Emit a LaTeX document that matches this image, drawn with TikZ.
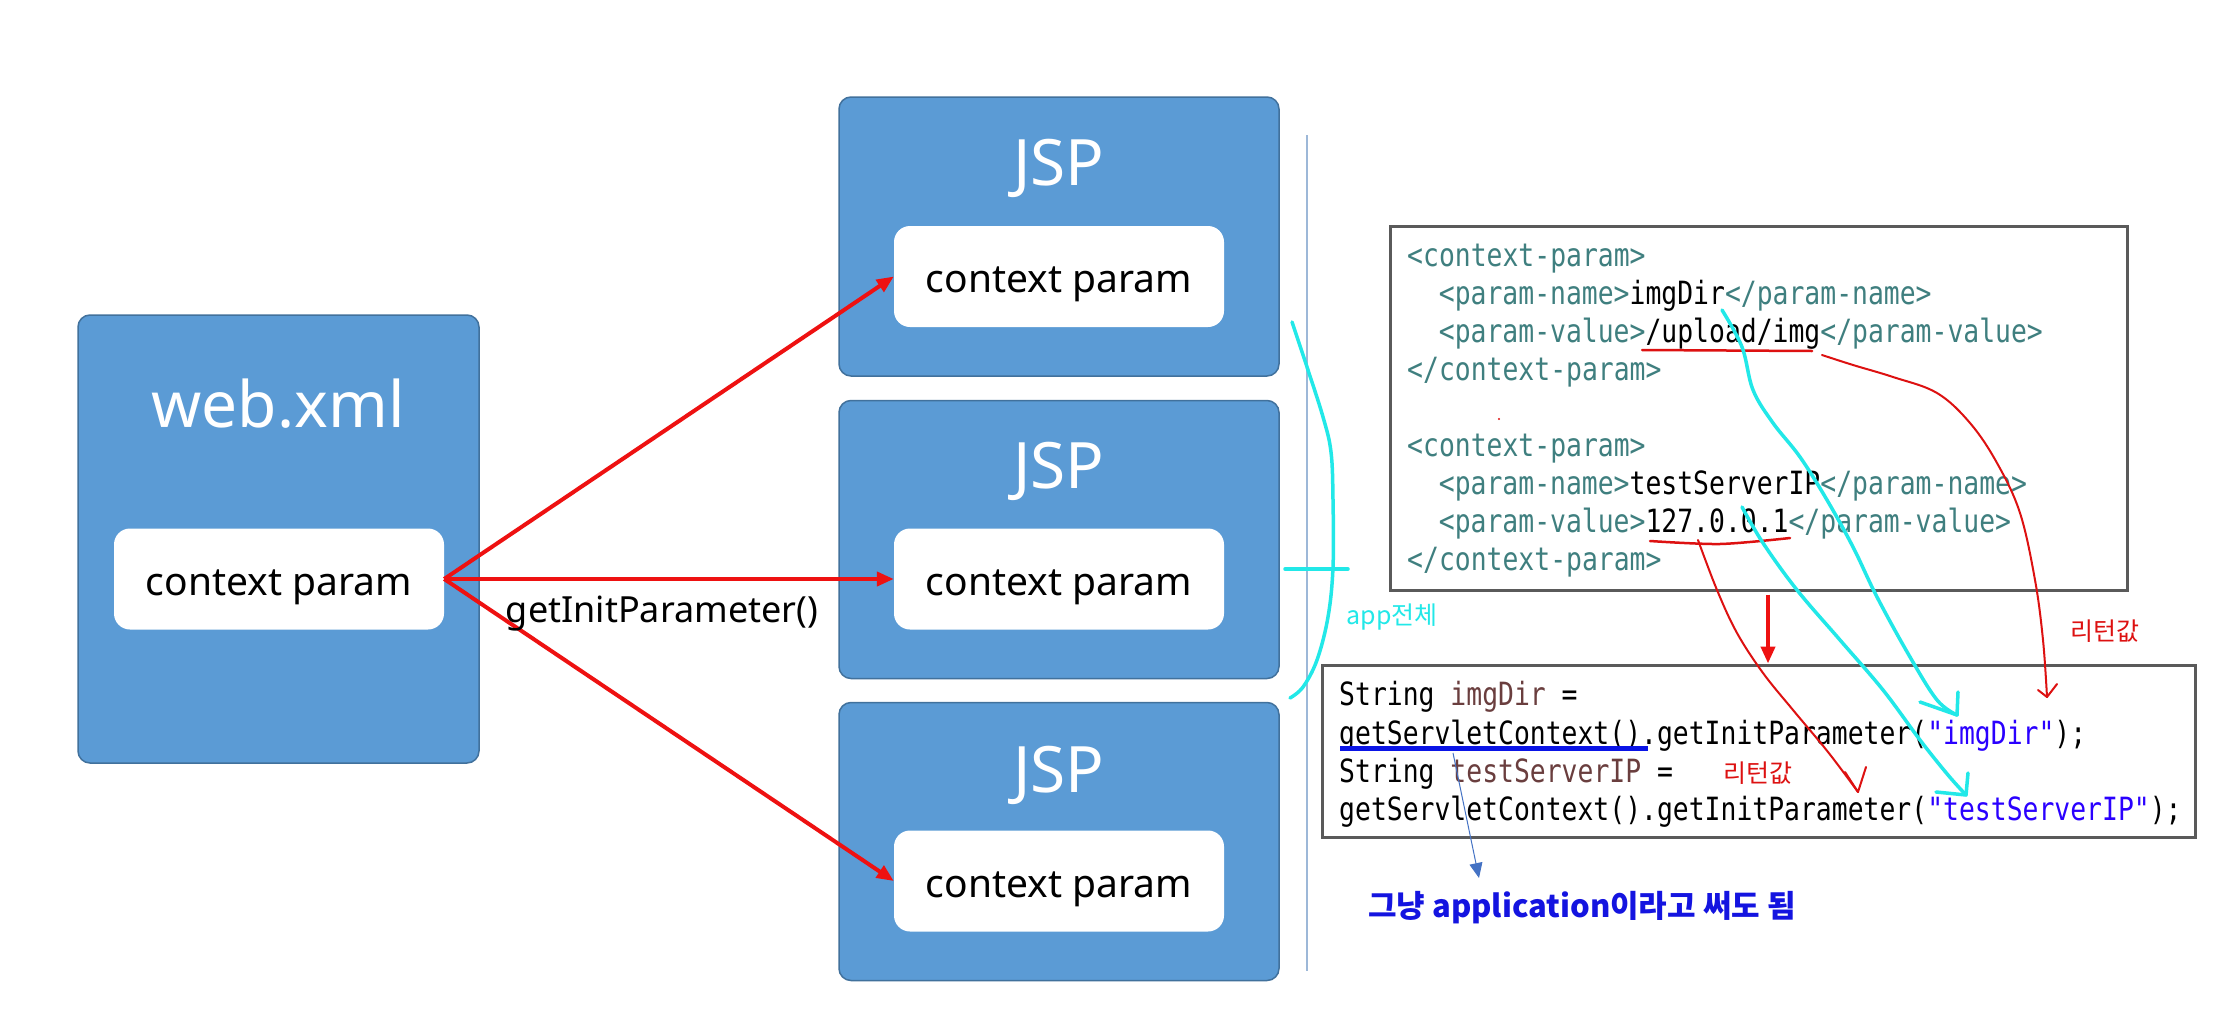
\documentclass[tikz,border=0pt]{standalone}
\usepackage{fontspec}
\setmainfont{Noto Sans}
\newfontfamily\codefont[FakeStretch=0.825]{DejaVu Sans Mono}
\newfontfamily\krfont{Noto Sans CJK KR}
\usetikzlibrary{arrows.meta}
\definecolor{boxblue}{HTML}{5B9BD5}
\definecolor{boxedge}{HTML}{41719C}
\definecolor{arrred}{HTML}{EE1111}
\definecolor{tagteal}{HTML}{3F7F7F}
\definecolor{varbrown}{HTML}{6A3E3E}
\definecolor{strblue}{HTML}{2A00FF}
\definecolor{hcyan}{HTML}{22E8E8}
\definecolor{hred}{HTML}{DD1111}
\definecolor{ulblue}{HTML}{0A14E6}
\definecolor{thinblue}{HTML}{4472C4}
\definecolor{noteblue}{HTML}{1414E0}
\definecolor{vlinecol}{HTML}{9DB8D8}
\definecolor{codeedge}{HTML}{5A5A5A}
\tikzset{
  bluebox/.style={draw=boxedge, line width=1.5pt, fill=boxblue, rounded corners=12pt, inner sep=0pt},
  innerbox/.style={fill=white, rounded corners=16pt, inner sep=0pt, minimum width=330pt, minimum height=101pt, text=black, text height=32pt, text depth=0pt, font=\fontsize{39}{44}\selectfont},
  titletext/.style={text=white, inner sep=0pt, anchor=base, font=\fontsize{64}{70}\selectfont},
  redarrow/.style={draw=arrred, line width=4pt, -{Triangle[length=17pt,width=14pt]}},
  codebox/.style={draw=codeedge, line width=3pt, fill=none, inner sep=0pt},
  codeline/.style={anchor=base west, inner sep=0pt, font=\codefont\fontsize{32}{38}\selectfont},
  cyanpen/.style={draw=hcyan, line width=3.5pt, line cap=round, line join=round},
  redpen/.style={draw=hred, line width=2pt, line cap=round, line join=round},
  handtext/.style={inner sep=0pt, font=\krfont\fontsize{25}{28}\selectfont},
}
\begin{document}
\begin{tikzpicture}[x=1pt,y=-1pt]
\useasboundingbox (0,0) rectangle (2228,1009);
\fill[white] (0,0) rectangle (2228,1009);

% web.xml box
\node[bluebox, minimum width=401pt, minimum height=448pt] (web) at (278.5,539) {};
\node[titletext] (webtitle) at (278,427) {web.xml};
\node[innerbox] (webin) at (279,579) {context param};

% JSP boxes
\node[bluebox, minimum width=440pt, minimum height=279pt] (j1) at (1059,236.5) {};
\node[titletext] (j1t) at (1059,185) {JSP};
\node[innerbox] (j1in) at (1059,276.5) {context param};

\node[bluebox, minimum width=440pt, minimum height=278pt] (j2) at (1059,539.5) {};
\node[titletext] (j2t) at (1059,488) {JSP};
\node[innerbox] (j2in) at (1059,579) {context param};

\node[bluebox, minimum width=440pt, minimum height=278pt] (j3) at (1059,841.5) {};
\node[titletext] (j3t) at (1059,792) {JSP};
\node[innerbox] (j3in) at (1059,881) {context param};

% red arrows
\draw[redarrow] (webin.east) -- (j1in.west);
\draw[redarrow] (webin.east) -- (j2in.west);
\draw[redarrow] (webin.east) -- (j3in.west);
\node[inner sep=0pt, anchor=base, font=\fontsize{36}{40}\selectfont] (getlbl) at (662,622) {getInitParameter()};

% thin vertical line
\coordinate (vtop) at (1307,135);
\coordinate (vbot) at (1307,971);
\draw[vlinecol, line width=1.5pt] (vtop) -- (vbot);

% cyan bracket
\coordinate (bs) at (1292,322);
\coordinate (be) at (1290,698);
\draw[cyanpen] plot[smooth, tension=0.6] coordinates {(bs) (1307,367) (1323,417) (1331,452) (1333,500) (1333,567) (1328,617) (1317,660) (1303,687) (be)};
\coordinate (tk1) at (1285,569);
\coordinate (tk2) at (1348,569);
\draw[cyanpen] (tk1) -- (tk2);
\node[handtext, text=hcyan] (app) at (1392,617) {app전체};

% XML box
\node[codebox, minimum width=737pt, minimum height=364pt] (xml) at (1758.5,408) {};
\node[codeline] (x1) at (1407,266) {\color{tagteal}<context-param>};
\node[codeline] (x2) at (1438.7,304) {{\color{tagteal}<param-name>}imgDir{\color{tagteal}</param-name>}};
\node[codeline] (x3) at (1438.7,342) {{\color{tagteal}<param-value>}/upload/img{\color{tagteal}</param-value>}};
\node[codeline] (x4) at (1407,380) {\color{tagteal}</context-param>};
\node[codeline] (x5) at (1407,456) {\color{tagteal}<context-param>};
\node[codeline] (x6) at (1438.7,494) {{\color{tagteal}<param-name>}testServerIP{\color{tagteal}</param-name>}};
\node[codeline] (x7) at (1438.7,532) {{\color{tagteal}<param-value>}127.0.0.1{\color{tagteal}</param-value>}};
\node[codeline] (x8) at (1407,570) {\color{tagteal}</context-param>};
\coordinate (dot) at (1499,419);
\fill[hred] (dot) circle (1.2pt);

% code box
\node[codebox, minimum width=873pt, minimum height=172pt] (code) at (1758.5,751) {};
\node[codeline] (c1) at (1339,705) {String {\color{varbrown}imgDir}\ =};
\node[codeline] (c2) at (1339,744) {getServletContext().getInitParameter({\color{strblue}"imgDir"});};
\node[codeline] (c3) at (1339,782) {String {\color{varbrown}testServerIP}\ =};
\node[codeline] (c4) at (1339,820) {getServletContext().getInitParameter({\color{strblue}"testServerIP"});};

% red arrow xml -> code
\coordinate (ax) at (1768,0);
\draw[redarrow] ([yshift=-3pt]ax |- xml.south) -- (ax |- code.north);

% blue underline and thin arrow
\coordinate (ul1) at (1340,748);
\coordinate (ul2) at (1648,748);
\draw[ulblue, line width=5pt] (ul1) -- (ul2);
\coordinate (ba) at (1453,753);
\node[anchor=base west, inner sep=0pt, text=noteblue, font=\krfont\bfseries\fontsize{31}{36}\selectfont] (note) at (1368,917) {그냥 application이라고 써도 됨};
\coordinate (bb) at (1479,878);
\draw[thinblue, line width=1pt, -{Triangle[length=15pt,width=13pt]}] (ba) -- (bb);

% red underlines and curves
\coordinate (u1a) at (1642,350);
\coordinate (u1b) at (1812,351);
\draw[redpen, line width=2.5pt] (u1a) -- (u1b);
\coordinate (r1s) at (1822,355);
\coordinate (r1e) at (2047,697);
\draw[redpen] plot[smooth, tension=0.6] coordinates {(r1s) (1853,365) (1893,377) (1937,393) (1970,423) (1997,463) (2020,513) (2035,580) (2043,640) (r1e)};
\draw[redpen] (2038,690) -- (r1e) -- (2057,684);
\node[handtext, text=hred] (ret1) at (2105,631) {리턴값};

\coordinate (u2a) at (1650,541);
\coordinate (u2b) at (1790,538);
\draw[redpen, line width=2.5pt] plot[smooth] coordinates {(u2a) (1720,544) (u2b)};
\coordinate (r2s) at (1698,540);
\coordinate (r2e) at (1858,792);
\draw[redpen] plot[smooth, tension=0.6] coordinates {(r2s) (1717,590) (1737,633) (1763,673) (1793,710) (1828,752) (r2e)};
\draw[redpen] (1845,772) -- (r2e) -- (1866,767);
\node[handtext, text=hred] (ret2) at (1758,773) {리턴값};

% cyan curves
\coordinate (k1s) at (1722,310);
\coordinate (k1e) at (1957,715);
\draw[cyanpen] plot[smooth, tension=0.6] coordinates {(k1s) (1742,347) (1753,390) (1773,423) (1800,457) (1827,500) (1853,547) (1877,597) (1910,657) (1937,700) (k1e)};
\draw[cyanpen] (1920,702) -- (k1e) -- (1958,692);

\coordinate (k2s) at (1742,507);
\coordinate (k2e) at (1966,795);
\draw[cyanpen] plot[smooth, tension=0.6] coordinates {(k2s) (1763,543) (1797,590) (1840,640) (1883,690) (1920,740) (1948,775) (k2e)};
\draw[cyanpen] (1936,792) -- (k2e) -- (1968,773);
\end{tikzpicture}
\end{document}
